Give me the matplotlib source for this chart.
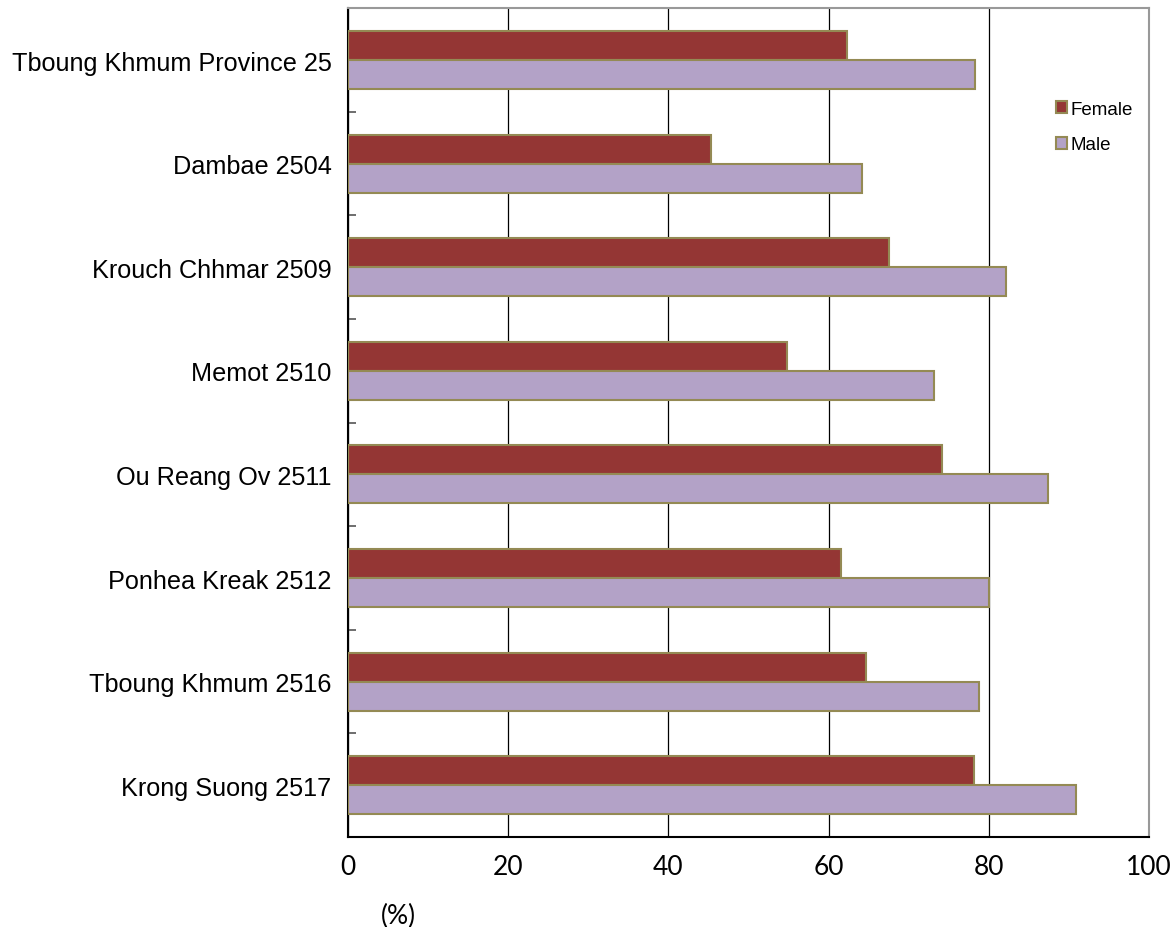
import numpy as np
import matplotlib.pyplot as plt
from matplotlib.ticker import FixedLocator

districts = ['Tboung Khmum Province 25', 'Dambae 2504', 'Krouch Chhmar 2509',
             'Memot 2510', 'Ou Reang Ov 2511', 'Ponhea Kreak 2512',
             'Tboung Khmum 2516', 'Krong Suong 2517']
female = [62.3, 45.3, 67.5, 54.8, 74.1, 61.6, 64.7, 78.1]
male = [78.3, 64.2, 82.1, 73.1, 87.4, 80.0, 78.8, 90.9]
xticks = [0, 20, 40, 60, 80, 100]

tickfont = dict(family=['Lato', 'DejaVu Sans'], fontsize=19)

fig = plt.figure(figsize=(11.76, 9.28), dpi=100)
ax = fig.add_axes([0.296, 0.097, 0.681, 0.893])

y = np.arange(len(districts))
h = 0.28
edge = '#948A54'
ax.barh(y - h / 2, female, height=h, color='#943634', edgecolor=edge,
        linewidth=1.5, label='Female', zorder=3)
ax.barh(y + h / 2, male, height=h, color='#B3A2C7', edgecolor=edge,
        linewidth=1.5, label='Male', zorder=3)

ax.set_xlim(0, 100)
ax.set_ylim(len(districts) - 0.5, -0.5)

ax.set_xticks(xticks)
ax.set_xticklabels([str(v) for v in xticks], **tickfont)
ax.tick_params(axis='x', length=0, pad=12)
ax.grid(axis='x', color='black', linewidth=0.9, zorder=0)

ax.set_yticks(y)
ax.set_yticklabels(districts, family=['Liberation Sans', 'DejaVu Sans'], fontsize=18.2)
ax.tick_params(axis='y', which='major', length=0, pad=12)
ax.yaxis.set_minor_locator(FixedLocator(np.arange(0.5, len(districts) - 1, 1.0)))
ax.tick_params(axis='y', which='minor', direction='in', length=6, color='#555555', width=1.2)

for s in ['left', 'bottom']:
    ax.spines[s].set_color('black')
    ax.spines[s].set_linewidth(1.5)
for s in ['top', 'right']:
    ax.spines[s].set_color('#999999')
    ax.spines[s].set_linewidth(1.5)

ax.text(6.3, -0.095, '(%)', transform=ax.get_xaxis_transform(), ha='center', va='center', **tickfont)

ax.legend(loc='upper left', bbox_to_anchor=(0.863, 0.909), frameon=False,
          prop={'family': ['Liberation Sans', 'DejaVu Sans'], 'size': 13.5},
          handlelength=0.6, handleheight=0.6, handletextpad=0.15, labelspacing=1.0)

fig.savefig('out.png', dpi=100)
